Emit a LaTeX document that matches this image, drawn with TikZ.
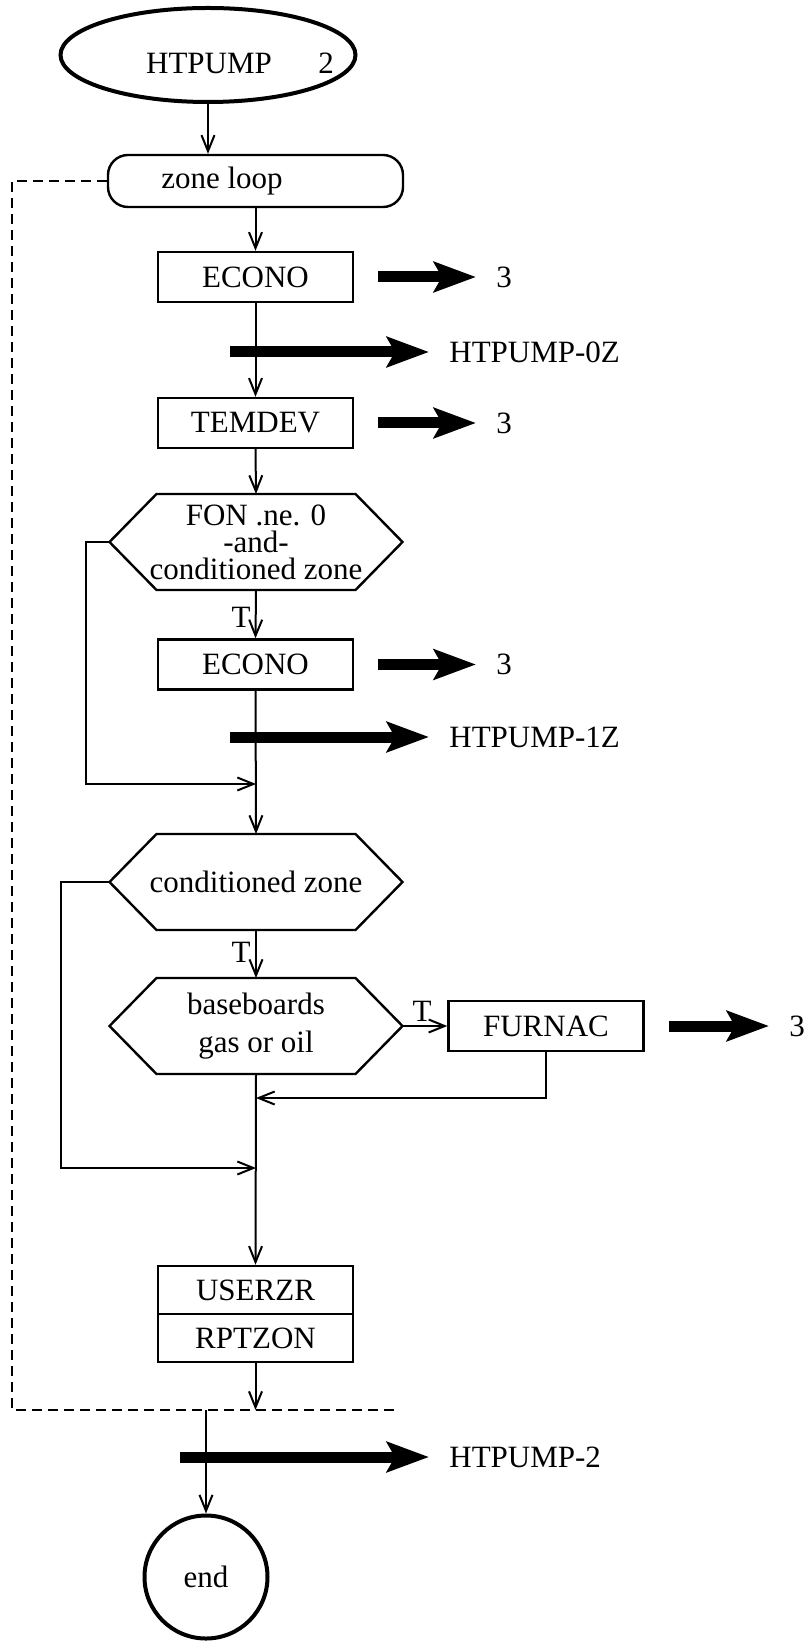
\documentclass[tikz,border=0pt]{standalone}
\usepackage{fontspec}
\setmainfont{Liberation Serif}
\usetikzlibrary{arrows.meta,shapes.geometric}

\tikzset{
  flow/.style={line width=1pt, -{Straight Barb[length=8pt,width=6.5pt]}},
  procbox/.style={draw, line width=1.2pt, minimum width=97.5pt, minimum height=25pt, inner sep=0pt},
  condbox/.style={minimum width=146.5pt, minimum height=48pt, inner sep=0pt, outer sep=0pt, align=center},
  termnode/.style={draw, line width=2pt, inner sep=0pt},
  callarrow/.style={line width=5.5pt, -{Stealth[length=21pt,width=15pt,inset=4pt]}, shorten >=10pt},
  calltext/.style={anchor=west, inner sep=0pt},
  tmark/.style={inner sep=0pt},
  loopline/.style={line width=1.3pt, dash pattern=on 5pt off 3pt},
}

\begin{document}
\begin{tikzpicture}[x=0.5pt, y=-0.5pt, font=\fontsize{15.5}{19}\selectfont]
	\useasboundingbox (0,0) rectangle (805,1641);
	% boxes of the main column
	\node[termnode, ellipse, minimum width=147.5pt, minimum height=47pt, label={[xshift=16pt,yshift=-4pt]center:HTPUMP\hspace{1.5em}2}] (start) at (208,55) {};
	\node[draw, line width=1.2pt, rounded corners=10pt, minimum width=147.5pt, minimum height=26pt, label={[xshift=-16.75pt]center:zone loop}] (zloop) at (255.5,181) {};
	\node[procbox] (econoA) at (255.5,277) {ECONO};
	\node[procbox] (temdev) at (255.5,423) {TEMDEV};
	\node[condbox, font=\fontsize{15.5}{13.5}\selectfont] (fon) at (256,542) {FON .ne. 0\\-and-\\conditioned zone};
	\node[procbox] (econoB) at (255.5,664.5) {ECONO};
	\node[condbox] (cz) at (256,882) {conditioned zone};
	\node[condbox] (bb) at (256,1026) {baseboards\\gas or oil};
	\node[procbox] (furnac) at (546,1026) {FURNAC};
	\node[procbox, minimum height=24pt] (userzr) at (255.5,1290) {USERZR};
	\node[procbox, minimum height=24pt] (rptzon) at (255.5,1338) {RPTZON};
	\node[termnode, circle, minimum size=61.5pt] (endn) at (206,1577) {end};
	\foreach \h in {fon,cz,bb}
		\draw[line width=1.2pt] (\h.west) -- ([xshift=23.5pt]\h.north west) -- ([xshift=-23.5pt]\h.north east) -- (\h.east) -- ([xshift=-23.5pt]\h.south east) -- ([xshift=23.5pt]\h.south west) -- cycle;
	% joins and free ends
	\coordinate (jA) at (256,784);
	\coordinate (jB) at (256,1098);
	\coordinate (jC) at (256,1168);
	\coordinate (dl) at (12,1410);
	\coordinate (dr) at (397,1410);
	\coordinate (hzA) at (230,352);
	\coordinate (hzB) at (230,737);
	\coordinate (hzC) at (180,1457);
	% labels
	\node[tmark, anchor=east] (tA) at (251,617) {T};
	\node[tmark, anchor=east] (tB) at (251,952) {T};
	\node[tmark] (tC) at (422,1011) {T};
	\node[calltext] (threeA) at (496,277) {3};
	\node[calltext] (threeB) at (496,423) {3};
	\node[calltext] (threeC) at (496,664.5) {3};
	\node[calltext] (threeD) at (789,1026) {3};
	\node[calltext] (lblA) at (449,352) {HTPUMP-0Z};
	\node[calltext] (lblB) at (449,737) {HTPUMP-1Z};
	\node[calltext] (lblC) at (449,1457) {HTPUMP-2};
	% flow lines
	\draw[flow] (start.south) -- (start.south |- zloop.north);
	\draw[flow] (zloop.south) -- (econoA.north);
	\draw[flow] (econoA.south) -- (temdev.north);
	\draw[flow] (temdev.south) -- (fon.north);
	\draw[flow] (fon.south) -- (econoB.north);
	\draw[flow] (econoB.south) -- (cz.north);
	\draw[flow] (fon.west) -- ++(-24,0) |- (jA);
	\draw[flow] (cz.south) -- (bb.north);
	\draw[flow] (bb.east) -- (furnac.west);
	\draw[flow] (furnac.south) |- (jB);
	\draw[flow] (cz.west) -- ++(-49,0) |- (jC);
	\draw[flow] (bb.south) -- (userzr.north);
	\draw[flow] (rptzon.south) -- (rptzon.south |- dl);
	\draw[flow] (endn.north |- dl) -- (endn.north);
	\draw[loopline] (zloop.west) -| (dl) -- (dr);
	% calls
	\draw[callarrow, shorten <=12pt] (econoA.east) -- (threeA.west);
	\draw[callarrow, shorten <=12pt] (temdev.east) -- (threeB.west);
	\draw[callarrow, shorten <=12pt] (econoB.east) -- (threeC.west);
	\draw[callarrow, shorten <=12pt] (furnac.east) -- (threeD.west);
	\draw[callarrow] (hzA) -- (lblA.west);
	\draw[callarrow] (hzB) -- (lblB.west);
	\draw[callarrow] (hzC) -- (lblC.west);
\end{tikzpicture}
\end{document}
